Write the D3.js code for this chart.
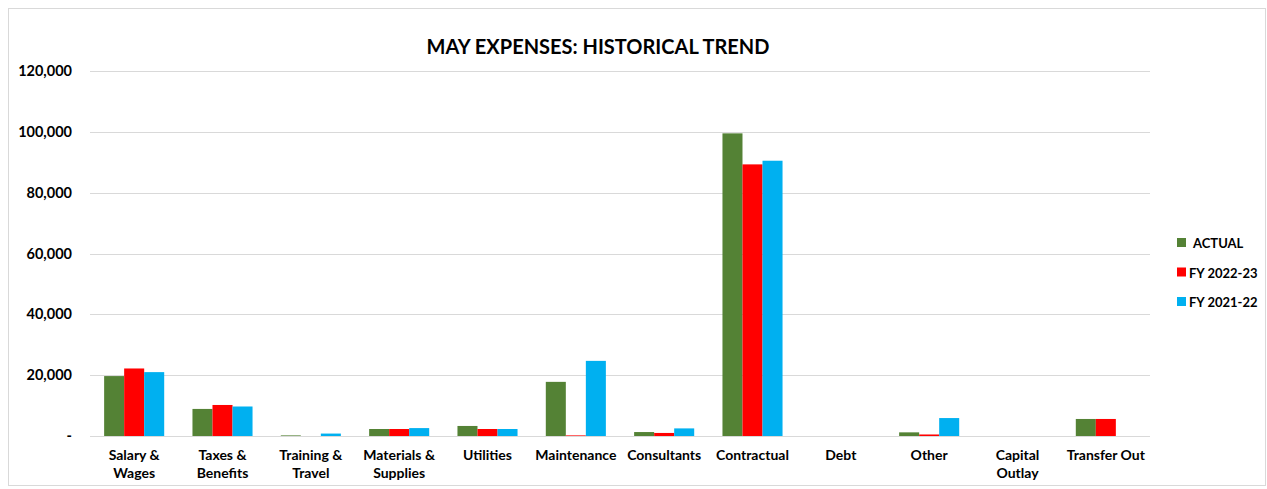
<!DOCTYPE html>
<html><head><meta charset="utf-8">
<script src="https://cdn.jsdelivr.net/npm/d3@7"></script>
<style>body{margin:0;background:#fff}svg{display:block}text{font-family:Lato,"Open Sans",sans-serif;font-weight:bold}</style>
</head><body><svg id="c" width="1267" height="489"></svg>
<script>
const categories = ["Salary & Wages","Taxes & Benefits","Training & Travel","Materials & Supplies","Utilities","Maintenance","Consultants","Contractual","Debt","Other","Capital Outlay","Transfer Out"];
const catLines = [["Salary &","Wages"],["Taxes &","Benefits"],["Training &","Travel"],["Materials &","Supplies"],["Utilities"],["Maintenance"],["Consultants"],["Contractual"],["Debt"],["Other"],["Capital","Outlay"],["Transfer Out"]];
const seriesNames = ["ACTUAL","FY 2022-23","FY 2021-22"];
const actual = [19700,8900,200,2300,3300,17800,1300,99500,0,1200,0,5600];
const fy2223 = [22200,10200,0,2300,2300,200,1000,89300,0,500,0,5600];
const fy2122 = [21000,9700,800,2600,2300,24700,2500,90500,0,5900,0,0];
const yTicks = [0,20000,40000,60000,80000,100000,120000];
const colors = ["#548235","#FF0000","#00B0F0"];

const svg = d3.select("#c");
svg.append("rect").attr("x",8.5).attr("y",8.5).attr("width",1257).attr("height",477).attr("fill","none").attr("stroke","#d9d9d9");
const m = {l:90, r:1150, t:71, b:436};
const x = d3.scaleBand().domain(categories).range([m.l,m.r]).paddingInner(0.32).paddingOuter(0.16);
const xs = d3.scaleBand().domain(seriesNames).range([0,x.bandwidth()]);
const y = d3.scaleLinear().domain([0,120000]).range([m.b,m.t]);

svg.append("g").selectAll("line").data(yTicks).join("line")
  .attr("x1",m.l).attr("x2",m.r).attr("y1",d=>Math.round(y(d))+0.5).attr("y2",d=>Math.round(y(d))+0.5)
  .attr("stroke","#d9d9d9").attr("stroke-width",1);
svg.append("g").selectAll("text").data(yTicks).join("text")
  .attr("x",72).attr("y",d=>y(d)+5).attr("text-anchor","end").attr("font-size",14.5).attr("fill","#000")
  .text(d=>d===0?"-":d3.format(",")(d));

const data = [actual,fy2223,fy2122];
data.forEach((arr,si)=>{
  svg.append("g").selectAll("rect").data(arr).join("rect")
    .attr("x",(d,i)=>x(categories[i])+xs(seriesNames[si]))
    .attr("width",xs.bandwidth())
    .attr("y",d=>y(d)).attr("height",d=>y(0)-y(d))
    .attr("fill",colors[si]);
});

const lab = svg.append("g");
categories.forEach((c,i)=>{
  const t = lab.append("text").attr("x",x(c)+x.bandwidth()/2).attr("y",460).attr("text-anchor","middle").attr("font-size",14).attr("fill","#000");
  catLines[i].forEach((l,j)=>t.append("tspan").attr("x",x(c)+x.bandwidth()/2).attr("dy",j?18:0).text(l));
});

svg.append("text").attr("x",598).attr("y",54).attr("text-anchor","middle").attr("font-size",20).attr("fill","#000").text("MAY EXPENSES: HISTORICAL TREND");

const lg = svg.append("g");
seriesNames.forEach((s,i)=>{
  const yy = 243 + i*29.5;
  lg.append("rect").attr("x",1177).attr("y",yy-5).attr("width",9).attr("height",9).attr("fill",colors[i]);
  lg.append("text").attr("x",i===0?1193:1189).attr("y",yy+5).attr("font-size",13).attr("fill","#000").text(s);
});
</script></body></html>
